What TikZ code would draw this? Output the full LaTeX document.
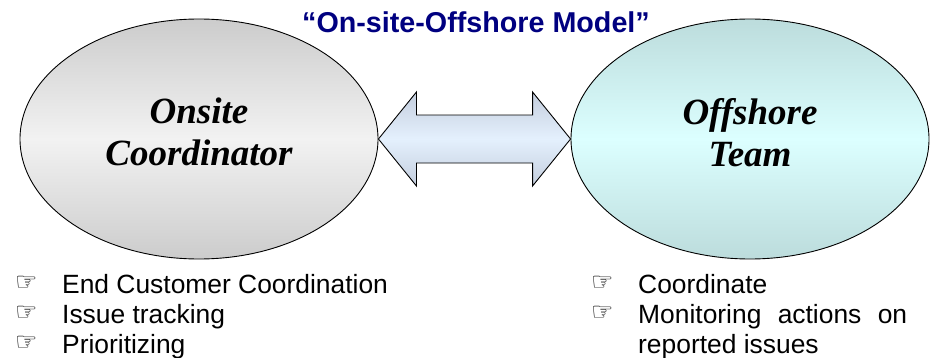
\documentclass[tikz,border=0pt]{standalone}
\usepackage{fontspec}
\setmainfont{Liberation Sans}
\newfontfamily\rolefont{Liberation Serif}
\newfontfamily\handfont{DejaVu Sans}
\usetikzlibrary{shapes.geometric}
\definecolor{navy}{RGB}{0,0,128}
\definecolor{greyedge}{RGB}{204,204,204}
\definecolor{greymid}{RGB}{242,242,242}
\definecolor{tealedge}{RGB}{188,220,220}
\definecolor{tealmid}{RGB}{220,255,255}
\definecolor{linkedge}{RGB}{196,206,222}
\definecolor{linkmid}{RGB}{228,240,253}
\newcommand\hand{\raisebox{3pt}{\handfont\fontsize{25}{25}\selectfont ☞}}
\begin{document}
\begin{tikzpicture}[x=1pt,y=1pt,
  role/.style={ellipse,draw,line width=.9pt,minimum width=358pt,minimum height=240pt,
    inner sep=0pt,align=center,text depth=14pt,
    font=\rolefont\bfseries\itshape\fontsize{37}{42}\selectfont},
  duty/.style={anchor=north west,inner sep=0pt,font=\fontsize{26.4}{30}\selectfont},
  link/.style={draw,line width=.9pt,line join=miter,top color=linkedge,bottom color=linkedge,middle color=linkmid}]
  \useasboundingbox (0,0) rectangle (930,357);
  \node[font=\bfseries\fontsize{28.7}{30}\selectfont,text=navy,anchor=base,inner sep=0pt] (title)
    at (476,324) {“On-site-Offshore Model”};
  \node[role,top color=greyedge,bottom color=greyedge,middle color=greymid] (oc) at (199,218) {Onsite\\Coordinator};
  \node[role,top color=tealedge,bottom color=tealedge,middle color=tealmid] (ot) at (750,218) {Offshore\\Team};
  % two-way arrow between the ellipses
  \path[link] (oc.east) -- ++(38,47) -- ++(0,-23) -- ([shift={(-38,24)}]ot.west) -- ++(0,23)
    -- (ot.west) -- ++(-38,-47) -- ++(0,23) -- ([shift={(38,-24)}]oc.east) -- ++(0,-23) -- cycle;
  \node[duty] (listL) at (15,85) {\begin{tabular}{@{}p{47pt}@{}l@{}}
    \hand & End Customer Coordination\\
    \hand & Issue tracking\\
    \hand & Prioritizing
  \end{tabular}};
  \node[duty] (listR) at (591,85) {\begin{tabular}{@{}p{47pt}@{}p{269pt}@{}}
    \hand & Coordinate\\
    \hand & Monitoring actions on reported issues
  \end{tabular}};
\end{tikzpicture}
\end{document}
